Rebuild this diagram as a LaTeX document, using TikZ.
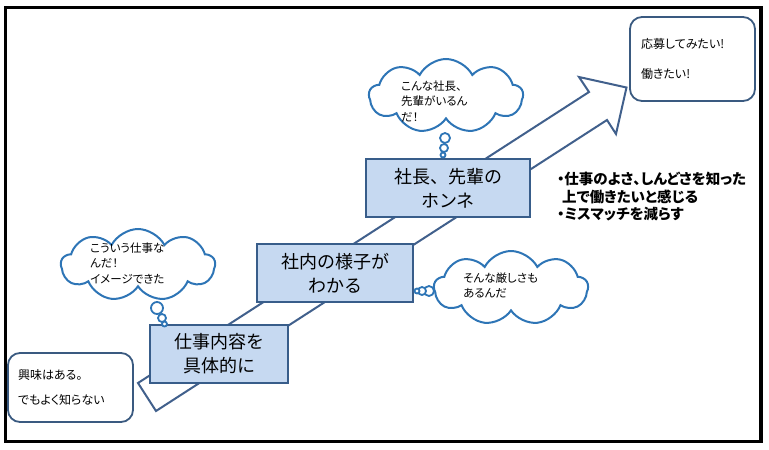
\documentclass[tikz,border=0pt]{standalone}
\usepackage{fontspec}
\usetikzlibrary{shapes.symbols}
\newfontfamily\jp[RawFeature=+palt]{Noto Sans CJK JP}
\newfontfamily\jpn{Noto Sans CJK JP}
\definecolor{boxfill}{HTML}{C6D9F1}
\definecolor{boxline}{HTML}{385D8A}
\definecolor{arrowline}{HTML}{41608C}
\definecolor{cloudblue}{HTML}{2E75B6}
\definecolor{noteline}{HTML}{3A5A80}
\begin{document}
\begin{tikzpicture}[x=1pt,y=-1pt,
  stepbox/.style={draw=boxline, fill=boxfill, line width=2.8pt, align=center, inner sep=0pt,
    font=\jpn\fontsize{18}{24}\selectfont},
  thought/.style={cloud, cloud puffs=9, cloud puff arc=125, cloud ignores aspect,
    draw=cloudblue, line width=2pt, fill=white, inner sep=0pt},
  bubble/.style={circle, draw=cloudblue, line width=1.8pt, fill=white, inner sep=0pt},
  notebox/.style={draw=noteline, rounded corners=12pt, line width=1.8pt, fill=white,
    align=left, inner sep=0pt, font=\jp\fontsize{12}{16}\selectfont},
  small/.style={font=\jp\fontsize{11.5}{15.5}\selectfont, align=left, inner sep=0pt},
  bigarrow/.style={draw=arrowline, fill=white, line width=2pt, line join=miter}
]
\useasboundingbox (0,0) rectangle (769,450);
% outer frame
\draw[line width=3.5pt] (5.5,7.5) rectangle (761,441.5);

% big arrow
\draw[bigarrow] (138,383) -- (589,92) -- (579,77) -- (626.5,87.5) -- (616,134)
  -- (607,120) -- (156,411) -- cycle;

% step boxes
\node[stepbox, minimum width=138pt, minimum height=58pt] (s1) at (219,354)
  {仕事内容を\\具体的に};
\node[stepbox, minimum width=156pt, minimum height=58pt] (s2) at (335,273)
  {社内の様子が\\わかる};
\node[stepbox, minimum width=164pt, minimum height=58pt] (s3) at (448,188)
  {社長、先輩の\\ホンネ};

% note boxes
\node[notebox, minimum width=125pt, minimum height=69pt, text width=105pt] (start) at (70.5,387.5)
  {興味はある。\\[9pt]でもよく知らない};
\node[notebox, minimum width=125pt, minimum height=84pt, text width=103pt] (goal) at (692.5,59)
  {応募してみたい!\\[14pt]働きたい!};

% thought clouds
\node[thought, minimum width=154pt, minimum height=74pt] (c1) at (446,96) {};
\node[small, anchor=west] (t1) at (401,101) {こんな社長、\\先輩がいるん\\だ！};
\node[bubble, minimum size=10pt] (b11) at (445,138) {};
\node[bubble, minimum size=8pt] (b12) at (444,148) {};
\node[bubble, minimum size=5pt] (b13) at (443,155) {};

\node[thought, minimum width=154pt, minimum height=72pt] (c2) at (138,265) {};
\node[small, anchor=west] (t2) at (90,263) {こういう仕事な\\んだ！\\イメージできた};
\node[bubble, minimum size=12pt] (b21) at (157,308) {};
\node[bubble, minimum size=8pt] (b22) at (162,318) {};
\node[bubble, minimum size=5pt] (b23) at (164.5,324) {};

\node[thought, minimum width=154pt, minimum height=74pt] (c3) at (511,288) {};
\node[small, anchor=west] (t3) at (463,285.5) {そんな厳しさも\\あるんだ};
\node[bubble, minimum size=10pt] (b31) at (429,291) {};
\node[bubble, minimum size=8pt] (b32) at (422,291) {};
\node[bubble, minimum size=5pt] (b33) at (417,291) {};

% result text
\node[anchor=west, align=left, inner sep=0pt, font=\jp\bfseries\fontsize{14.5}{17.5}\selectfont] (res)
  at (557,197) {・仕事のよさ、しんどさを知った\\\hspace*{5pt}上で働きたいと感じる\\・ミスマッチを減らす};
\end{tikzpicture}
\end{document}
